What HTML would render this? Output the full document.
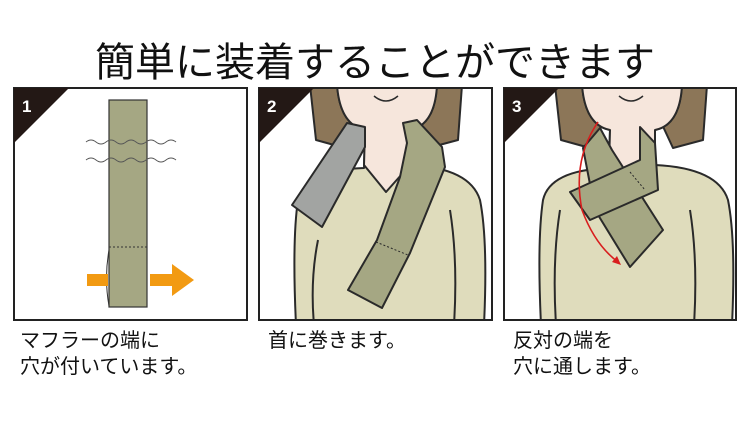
<!DOCTYPE html>
<html><head><meta charset="utf-8"><style>
body{margin:0;background:#fff;width:750px;height:443px;overflow:hidden}
svg{display:block}
text{font-family:"Liberation Sans","Noto Sans CJK JP",sans-serif}
</style></head><body>
<svg width="750" height="443" viewBox="0 0 750 443">
<text x="375" y="76" font-size="40" text-anchor="middle" fill="#111">簡単に装着することができます</text>

<!-- Panel 1 -->
<rect x="14" y="88" width="233" height="232" fill="#fff" stroke="#222" stroke-width="2"/>
<rect x="109" y="100" width="38" height="207" fill="#a5a783" stroke="#333" stroke-width="1.2"/>
<path d="M109 250 Q104 278 109 306" fill="none" stroke="#333" stroke-width="1"/>
<line x1="109" y1="247" x2="147" y2="247" stroke="#333" stroke-width="1" stroke-dasharray="2,2"/>
<path d="M86 142 q5 -4 10 0 t10 0 t10 0 t10 0 t10 0 t10 0 t10 0 t10 0 t10 0" fill="none" stroke="#555" stroke-width="1"/>
<path d="M86 160 q5 -4 10 0 t10 0 t10 0 t10 0 t10 0 t10 0 t10 0 t10 0 t10 0" fill="none" stroke="#555" stroke-width="1"/>
<rect x="87" y="274" width="21" height="12" fill="#f29a12"/>
<polygon points="150,274 172,274 172,264 194,280 172,296 172,286 150,286" fill="#f29a12"/>
<polygon points="14,88 69,88 14,143" fill="#231815"/>
<text x="22" y="112" font-size="17" font-weight="bold" fill="#fff">1</text>

<!-- Panel 2 -->
<g>
<clipPath id="c2"><rect x="259" y="88" width="233" height="232"/></clipPath>
<rect x="259" y="88" width="233" height="232" fill="#fff"/>
<g clip-path="url(#c2)" stroke="#2a2a2a" stroke-width="2" stroke-linejoin="round">
<path d="M310 85 L316 140 L345 148 L360 120 L415 120 L428 148 L458 140 L462 85 Z" fill="#8c7658"/>
<path d="M337 85 Q340 125 365 130 L364 168 Q305 170 298 200 Q292 240 296 325 L484 325 Q488 240 480 200 Q470 168 410 165 L410 130 Q435 125 437 85 Z" fill="#dfdcbc"/>
<path d="M337 85 Q340 125 365 130 L364 165 L386 192 L410 165 L410 130 Q435 125 437 85 Z" fill="#f6e6dc"/>
<path d="M374 96 Q386 106 398 96" fill="none" stroke-width="1.5"/>
<path d="M450 210 Q458 260 454 325" fill="none"/>
<path d="M318 240 Q310 280 314 325" fill="none"/>
<polygon points="347,123 365,127 365,147 322,227 292,205" fill="#a2a4a2"/>
<polygon points="403,123 417,120 442,147 445,167 410,253 382,308 348,290 377,240 400,177 407,143" fill="#a5a783"/>
<line x1="376" y1="242" x2="408" y2="255" stroke-width="1" stroke-dasharray="2,2"/>
</g>
<rect x="259" y="88" width="233" height="232" fill="none" stroke="#222" stroke-width="2"/>
<polygon points="259,88 314,88 259,143" fill="#231815"/>
<text x="267" y="112" font-size="17" font-weight="bold" fill="#fff">2</text>
</g>

<!-- Panel 3 -->
<g>
<clipPath id="c3"><rect x="504" y="88" width="232" height="232"/></clipPath>
<rect x="504" y="88" width="232" height="232" fill="#fff"/>
<g clip-path="url(#c3)" stroke="#2a2a2a" stroke-width="2" stroke-linejoin="round">
<path d="M555 85 L561 140 L590 148 L605 120 L660 120 L673 148 L703 140 L707 85 Z" fill="#8c7658"/>
<path d="M582 85 Q585 125 610 130 L609 168 Q550 170 543 200 Q537 240 541 325 L732 325 Q736 240 728 200 Q718 168 655 165 L655 130 Q680 125 682 85 Z" fill="#dfdcbc"/>
<path d="M582 85 Q585 125 610 130 L609 165 L631 192 L655 165 L655 130 Q680 125 682 85 Z" fill="#f6e6dc"/>
<path d="M619 96 Q631 106 643 96" fill="none" stroke-width="1.5"/>
<path d="M560 210 Q552 260 556 325" fill="none"/>
<path d="M690 210 Q698 260 694 325" fill="none"/>
<polygon points="583,148 600,128 612,150 663,230 630,267 595,210" fill="#a5a783"/>
<polygon points="570,192 640,160 640,127 655,143 658,190 590,220" fill="#a5a783"/>
<line x1="630" y1="172" x2="645" y2="190" stroke-width="1" stroke-dasharray="2,2"/>
</g>
<path d="M598 122 Q572 160 582 210 Q595 245 618 262" fill="none" stroke="#d81e1e" stroke-width="1.6"/>
<polygon points="621,265 612,262 617,256" fill="#d81e1e"/>
<rect x="504" y="88" width="232" height="232" fill="none" stroke="#222" stroke-width="2"/>
<polygon points="504,88 559,88 504,143" fill="#231815"/>
<text x="512" y="112" font-size="17" font-weight="bold" fill="#fff">3</text>
</g>

<g font-size="20" fill="#111">
<text x="20" y="347">マフラーの端に</text>
<text x="20" y="373">穴が付いています。</text>
<text x="268" y="347">首に巻きます。</text>
<text x="513" y="347">反対の端を</text>
<text x="513" y="373">穴に通します。</text>
</g>
</svg>
</body></html>
